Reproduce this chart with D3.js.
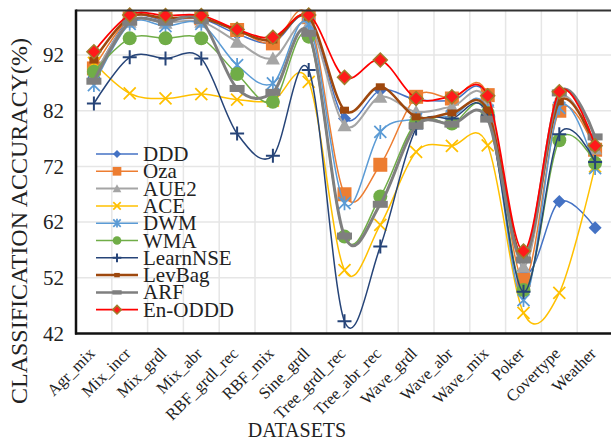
<!DOCTYPE html>
<html>
<head>
<meta charset="utf-8">
<script src="https://cdn.jsdelivr.net/npm/d3@7/dist/d3.min.js"></script>
<style>
  html, body { margin: 0; padding: 0; background: #fff; }
  svg { display: block; font-family: "Liberation Serif", "Times New Roman", serif; }
</style>
</head>
<body>
<svg id="chart" width="611" height="440"></svg>
<script>
// Datasets on the x axis
const categories = ["Agr_mix", "Mix_incr", "Mix_grdl", "Mix_abr", "RBF_grdl_rec", "RBF_mix",
  "Sine_grdl", "Tree_grdl_rec", "Tree_abr_rec", "Wave_grdl", "Wave_abr", "Wave_mix",
  "Poker", "Covertype", "Weather"];

// Classification accuracy (%) per method
const DDD      = [88.0, 98.5, 98.3, 98.5, 95.8, 94.2, 98.6, 80.6, 85.7, 84.0, 83.8, 84.3, 53.3, 65.7, 61.0];
const Oza      = [89.6, 98.6, 98.5, 98.6, 96.5, 94.1, 98.8, 67.0, 72.3, 84.5, 84.2, 84.8, 51.6, 82.0, 75.0];
const AUE2     = [88.3, 98.0, 97.8, 98.0, 94.4, 91.4, 97.6, 79.4, 84.5, 81.8, 82.7, 83.6, 54.0, 84.0, 75.2];
const ACE      = [90.6, 85.1, 84.2, 85.0, 84.0, 83.8, 87.2, 53.4, 61.5, 74.6, 75.7, 75.8, 45.7, 49.3, 72.0];
const DWM      = [86.6, 97.6, 97.2, 97.6, 90.2, 86.9, 97.5, 65.4, 78.2, 80.5, 81.0, 82.0, 48.0, 82.5, 71.7];
const WMA      = [89.0, 95.0, 95.0, 95.0, 88.6, 83.6, 95.3, 59.4, 66.6, 79.9, 79.7, 81.6, 49.8, 76.7, 72.6];
const LearnNSE = [83.3, 91.6, 91.4, 91.4, 77.9, 73.9, 89.3, 44.2, 57.6, 78.8, 80.6, 81.2, 49.5, 77.8, 72.8];
const LevBag   = [91.1, 98.8, 98.6, 98.7, 96.4, 94.7, 98.8, 82.1, 86.3, 80.9, 81.6, 82.1, 55.6, 83.6, 75.5];
const ARF      = [87.3, 97.9, 97.9, 98.2, 86.0, 85.3, 95.9, 59.5, 65.2, 79.3, 79.6, 80.5, 55.2, 85.2, 77.3];
const EnODDD   = [92.6, 99.2, 99.1, 99.1, 96.6, 95.2, 99.2, 88.0, 91.1, 84.2, 84.5, 84.7, 56.8, 85.4, 75.7];

const seriesNames = ["DDD", "Oza", "AUE2", "ACE", "DWM", "WMA", "LearnNSE", "LevBag", "ARF", "En-ODDD"];
const yTicks = [42, 52, 62, 72, 82, 92];

// Appearance of each method: colour, line width and marker kind
const styles = {
  "DDD":      { color: "#4472C4", width: 1.5, marker: "diamond" },
  "Oza":      { color: "#ED7D31", width: 1.5, marker: "square" },
  "AUE2":     { color: "#A5A5A5", width: 2,   marker: "triangle" },
  "ACE":      { color: "#FFC000", width: 1.5, marker: "x" },
  "DWM":      { color: "#5B9BD5", width: 1.5, marker: "asterisk" },
  "WMA":      { color: "#70AD47", width: 1.5, marker: "circle" },
  "LearnNSE": { color: "#264478", width: 1.5, marker: "plus" },
  "LevBag":   { color: "#9E480E", width: 2.5, marker: "smallsquare" },
  "ARF":      { color: "#7F7F7F", width: 3,   marker: "bar" },
  "En-ODDD":  { color: "#FF0000", width: 1.75, marker: "reddiamond" }
};

const seriesData = [DDD, Oza, AUE2, ACE, DWM, WMA, LearnNSE, LevBag, ARF, EnODDD];
const series = seriesNames.map((name, i) => ({ name, values: seriesData[i], ...styles[name] }));

const svg = d3.select("#chart");
const plot = { left: 76, right: 613, top: 10.5, bottom: 333.5 };

const x = d3.scaleBand().domain(categories).range([plot.left, plot.right]).paddingInner(0).paddingOuter(0);
const cx = d => x(d) + x.bandwidth() / 2;
const y = d3.scaleLinear().domain([42, 100]).range([plot.bottom, plot.top]);

// Gridlines
const grid = svg.append("g").attr("stroke", "#e6e6e6").attr("stroke-width", 1.5);
grid.selectAll("line.h").data(yTicks.slice(1)).join("line")
  .attr("x1", plot.left).attr("x2", plot.right)
  .attr("y1", d => y(d)).attr("y2", d => y(d));
grid.selectAll("line.v").data(categories.slice(1)).join("line")
  .attr("x1", d => x(d)).attr("x2", d => x(d))
  .attr("y1", plot.top).attr("y2", plot.bottom);

// Marker drawing
function drawMarker(g, kind, color, px, py, scale) {
  const s = scale;
  switch (kind) {
    case "diamond":
      g.append("path").attr("d", `M${px},${py - 6.5 * s}L${px + 6.5 * s},${py}L${px},${py + 6.5 * s}L${px - 6.5 * s},${py}Z`)
        .attr("fill", color);
      break;
    case "reddiamond":
      g.append("path").attr("d", `M${px},${py - 7 * s}L${px + 7 * s},${py}L${px},${py + 7 * s}L${px - 7 * s},${py}Z`)
        .attr("fill", "#FF1A1A").attr("stroke", "#A07D2C").attr("stroke-width", 1.5);
      break;
    case "square":
      g.append("rect").attr("x", px - 7 * s).attr("y", py - 7 * s).attr("width", 14 * s).attr("height", 14 * s)
        .attr("fill", color);
      break;
    case "triangle":
      g.append("path").attr("d", `M${px},${py - 7 * s}L${px + 7 * s},${py + 6 * s}L${px - 7 * s},${py + 6 * s}Z`)
        .attr("fill", color);
      break;
    case "x":
      g.append("path").attr("d", `M${px - 6 * s},${py - 6 * s}L${px + 6 * s},${py + 6 * s}M${px - 6 * s},${py + 6 * s}L${px + 6 * s},${py - 6 * s}`)
        .attr("stroke", color).attr("stroke-width", 1.75).attr("fill", "none");
      break;
    case "asterisk":
      g.append("path").attr("d", `M${px - 6 * s},${py - 6 * s}L${px + 6 * s},${py + 6 * s}M${px - 6 * s},${py + 6 * s}L${px + 6 * s},${py - 6 * s}M${px},${py - 7 * s}L${px},${py + 7 * s}`)
        .attr("stroke", color).attr("stroke-width", 1.75).attr("fill", "none");
      break;
    case "circle":
      g.append("circle").attr("cx", px).attr("cy", py).attr("r", 7 * s).attr("fill", color);
      break;
    case "plus":
      g.append("path").attr("d", `M${px - 7 * s},${py}L${px + 7 * s},${py}M${px},${py - 7 * s}L${px},${py + 7 * s}`)
        .attr("stroke", color).attr("stroke-width", 2).attr("fill", "none");
      break;
    case "smallsquare":
      g.append("rect").attr("x", px - 4.5 * s).attr("y", py - 3.5 * s).attr("width", 9 * s).attr("height", 7 * s)
        .attr("fill", color);
      break;
    case "bar":
      g.append("rect").attr("x", px - 7.5 * s).attr("y", py - 3.5 * s).attr("width", 15 * s).attr("height", 7 * s)
        .attr("fill", color);
      break;
  }
}

// Smoothed lines and markers
const line = d3.line().x(d => cx(d.cat)).y(d => y(d.v)).curve(d3.curveCardinal.tension(0));
const linesG = svg.append("g");
series.forEach(s => {
  const pts = categories.map((c, i) => ({ cat: c, v: s.values[i] }));
  const g = linesG.append("g");
  g.append("path").attr("d", line(pts)).attr("fill", "none")
    .attr("stroke", s.color).attr("stroke-width", s.width).attr("stroke-linejoin", "round");
  pts.forEach(p => drawMarker(g, s.marker, s.color, cx(p.cat), y(p.v), 1));
});

// Frame
svg.append("line").attr("x1", plot.left).attr("x2", plot.right).attr("y1", plot.top).attr("y2", plot.top)
  .attr("stroke", "#333").attr("stroke-width", 2);
svg.append("line").attr("x1", plot.left).attr("x2", plot.left).attr("y1", plot.top - 1).attr("y2", plot.bottom + 1)
  .attr("stroke", "#111").attr("stroke-width", 2.5);
svg.append("line").attr("x1", plot.left - 1).attr("x2", plot.right).attr("y1", plot.bottom).attr("y2", plot.bottom)
  .attr("stroke", "#111").attr("stroke-width", 2.5);

// Y axis labels
const yAxis = d3.axisLeft(y).tickValues(yTicks).tickSize(0).tickPadding(12).tickFormat(d3.format("d"));
const yg = svg.append("g").attr("transform", `translate(${plot.left},0)`).call(yAxis);
yg.select(".domain").remove();
yg.selectAll("text").attr("font-size", 21).attr("fill", "#222").attr("font-family", "Liberation Serif");

// X axis labels, rotated
const xAxis = d3.axisBottom(x).tickSize(0).tickPadding(0);
const xg = svg.append("g").attr("transform", `translate(0,${plot.bottom})`).call(xAxis);
xg.select(".domain").remove();
xg.selectAll("text")
  .attr("font-size", 16.5).attr("fill", "#222").attr("font-family", "Liberation Serif")
  .attr("text-anchor", "end").attr("dy", 0)
  .attr("transform", "translate(2,21) rotate(-45)");

// Axis titles
svg.append("text").attr("x", 297).attr("y", 437).attr("text-anchor", "middle")
  .attr("font-size", 20).attr("fill", "#222").text("DATASETS");
svg.append("text").attr("transform", "translate(27,221) rotate(-90)").attr("text-anchor", "middle")
  .attr("font-size", 24).attr("fill", "#222").text("CLASSIFICATION ACCURACY(%)");

// Legend
const legend = svg.append("g");
series.forEach((s, i) => {
  const ly = 154 + i * 17.3;
  const g = legend.append("g");
  g.append("line").attr("x1", 96).attr("x2", 138).attr("y1", ly).attr("y2", ly)
    .attr("stroke", s.color).attr("stroke-width", Math.min(s.width, 2.5));
  drawMarker(g, s.marker, s.color, 117, ly, 0.62);
  g.append("text").attr("x", 143).attr("y", ly + 7).attr("font-size", 21).attr("fill", "#222").text(s.name);
});
</script>
</body>
</html>
